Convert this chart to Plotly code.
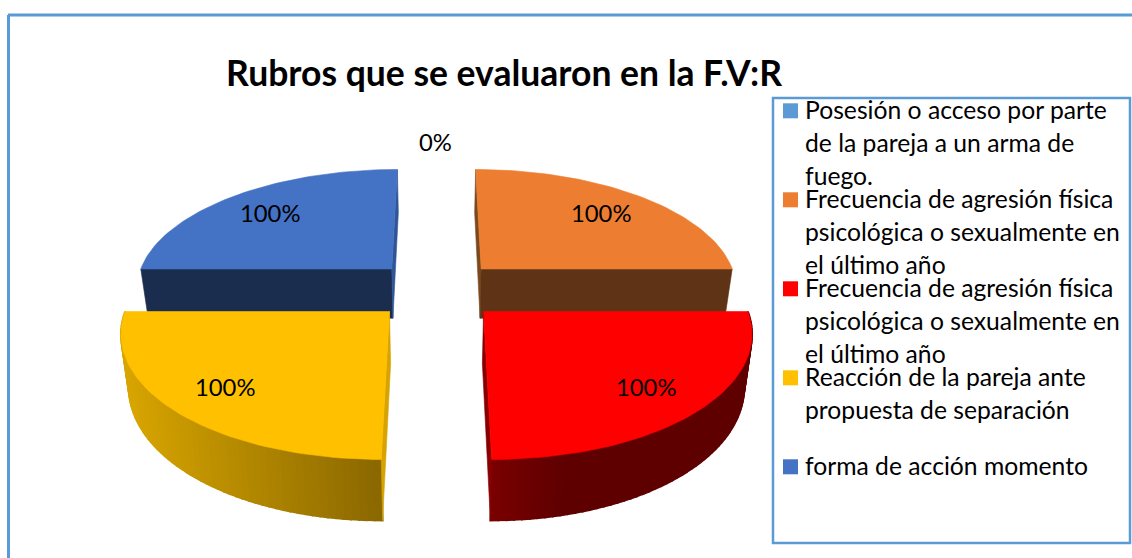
import numpy as np
import plotly.graph_objects as go

# data
categories = [
    'Posesión o acceso por parte de la pareja a un arma de fuego.',
    'Frecuencia de agresión física psicológica o sexualmente en el último año',
    'Frecuencia de agresión física psicológica o sexualmente en el último año',
    'Reacción de la pareja ante propuesta de separación',
    'forma de acción momento',
]
values = [0, 100, 100, 100, 100]
value_labels = ['0%', '100%', '100%', '100%', '100%']
legend_lines = [
    ['Posesión o acceso por parte', 'de la pareja a un arma de', 'fuego.'],
    ['Frecuencia de agresión física', 'psicológica o sexualmente en', 'el último año'],
    ['Frecuencia de agresión física', 'psicológica o sexualmente en', 'el último año'],
    ['Reacción de la pareja ante', 'propuesta de separación'],
    ['forma de acción momento'],
]

# styles
legend_colors = ['#5B9BD5', '#ED7D31', '#FF0000', '#FFC000', '#4472C4']
edge_colors = ['#5B9BD5', '#7A4A1E', '#8A0000', '#D6A300', '#2F5597']
flat_wall_colors = ['#5B9BD5', '#5F3416', '#600000', '#A07800', '#1B2D4F']
wall_left = {2: (122, 0, 0), 3: (217, 166, 0)}
wall_right = {2: (95, 0, 0), 3: (138, 104, 0)}
FONT = 'Lato, Carlito, Calibri, sans-serif'
FRAME = '#5B9BD5'

# pie projection
CX, CY = 436.5, 289.7
SCALE_X, SCALE_Y = 257.5, 119.5
PERSP = 0.145
EXPLODE = 0.178
WALL = 50.5
WALL_SHRINK = 0.975


def project(x, v, bottom=False):
    s = 1 / (1 - PERSP * v)
    sx = SCALE_X * x * s
    sy = SCALE_Y * v * s
    if bottom:
        return CX + sx * WALL_SHRINK, CY + sy + WALL * s
    return CX + sx, CY + sy


def polar(a, r, mid):
    # a is clockwise from the top, the slice is pushed out along its bisector
    ox = EXPLODE * np.sign(np.sin(mid))
    ov = -EXPLODE * np.sign(np.cos(mid))
    return ox + r * np.sin(a), ov - r * np.cos(a)


def poly(fig, xs, ys, color, width=0.6):
    fig.add_trace(go.Scatter(
        x=list(xs), y=list(ys), mode='lines', fill='toself', fillcolor=color,
        line=dict(color=color, width=width), hoverinfo='skip', showlegend=False
    ))


def mix(i, t):
    c = [wall_left[i][k] + (wall_right[i][k] - wall_left[i][k]) * t for k in range(3)]
    return 'rgb(%d,%d,%d)' % tuple(c)


fig = go.Figure()

total = sum(values)
edges = np.cumsum([0] + values) / total * 2 * np.pi
# back slices first, then the front ones
order = sorted(range(len(values)), key=lambda i: np.cos((edges[i] + edges[i + 1]) / 2), reverse=True)

for i in order:
    if values[i] == 0:
        continue
    a0, a1 = edges[i], edges[i + 1]
    mid = (a0 + a1) / 2
    angles = np.linspace(a0, a1, 61)
    apex = polar(mid, 0, mid)
    rim = [polar(a, 1, mid) for a in angles]
    is_front = np.cos(mid) < 0

    # curved wall, only seen on the front slices
    if is_front:
        xb = [project(*p, bottom=True)[0] for p in rim]
        lo, hi = min(xb), max(xb)
        for k in range(len(rim) - 1):
            t0 = project(*rim[k])
            t1 = project(*rim[k + 1])
            b0 = project(*rim[k], bottom=True)
            b1 = project(*rim[k + 1], bottom=True)
            if i == 2:
                # red only darkens over its first stretch
                t = min(1, ((b0[0] + b1[0]) / 2 - lo) / 70)
            else:
                t = ((b0[0] + b1[0]) / 2 - lo) / (hi - lo)
            poly(fig, [t0[0], t1[0], b1[0], b0[0], t0[0]], [t0[1], t1[1], b1[1], b0[1], t0[1]], mix(i, t), width=2)

    # straight walls from the apex to the two rim ends
    for end in (rim[0], rim[-1]):
        horizontal = abs(end[1] - apex[1]) < 1e-6
        if horizontal and is_front:
            continue
        t0, t1 = project(*apex), project(*end)
        b0, b1 = project(*apex, bottom=True), project(*end, bottom=True)
        color = flat_wall_colors[i] if horizontal else edge_colors[i]
        poly(fig, [t0[0], t1[0], b1[0], b0[0], t0[0]], [t0[1], t1[1], b1[1], b0[1], t0[1]], color)

    # top face
    pts = [project(*apex)] + [project(*p) for p in rim] + [project(*apex)]
    poly(fig, [p[0] for p in pts], [p[1] for p in pts], legend_colors[i])

# value labels
annotations = []
for i, label in enumerate(value_labels):
    mid = (edges[i] + edges[i + 1]) / 2
    if values[i] == 0:
        lx, ly = project(0, -1.51)
    else:
        lx, ly = project(*polar(mid, 0.78 if np.cos(mid) < 0 else 0.75, mid))
    annotations.append(dict(
        x=lx - 1, y=ly, text=label, showarrow=False, xanchor='center', yanchor='middle',
        font=dict(family=FONT, size=23.8, color='black')
    ))

# legend drawn by hand so the wrapping matches
shapes = [
    dict(type='rect', x0=773, x1=1130, y0=98, y1=543, line=dict(color=FRAME, width=2.5)),
    dict(type='line', x0=8.5, x1=8.5, y0=15, y1=558, line=dict(color=FRAME, width=3)),
    dict(type='line', x0=8, x1=1132, y0=15, y1=15, line=dict(color=FRAME, width=3)),
]
for i, lines in enumerate(legend_lines):
    top = 103.3 + 89 * i
    shapes.append(dict(
        type='rect', x0=783, x1=798, y0=top, y1=top + 15,
        fillcolor=legend_colors[i], line=dict(width=0)
    ))
    for j, line in enumerate(lines):
        annotations.append(dict(
            x=803, y=top + 6.5 + 32.7 * j, text=line, showarrow=False,
            xanchor='left', yanchor='middle',
            font=dict(family=FONT, size=24.7, color='black')
        ))

fig.update_layout(
    width=1132,
    height=558,
    margin=dict(l=0, r=0, t=0, b=0),
    paper_bgcolor='white',
    plot_bgcolor='white',
    title=dict(
        text='<b>Rubros que se evaluaron en la F.V:R</b>',
        x=504 / 1132, y=1 - 74 / 558, xanchor='center', yanchor='middle',
        font=dict(family=FONT, size=35.5, color='black')
    ),
    xaxis=dict(range=[0, 1132], visible=False, fixedrange=True),
    yaxis=dict(range=[558, 0], visible=False, fixedrange=True),
    shapes=shapes,
    annotations=annotations,
    showlegend=False,
)

fig.write_html(
    "out.html",
    config=dict(displayModeBar=False),
    post_script="document.body.style.margin='0';document.body.style.overflow='hidden';"
)
